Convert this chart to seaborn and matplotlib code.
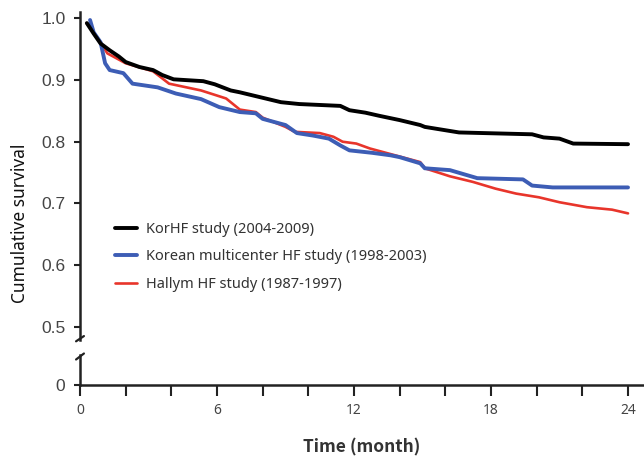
import matplotlib
matplotlib.use("Agg")
import matplotlib.pyplot as plt
import seaborn as sns
import pandas as pd

# ==========================================
# DATA
# ==========================================

korhf_month = [0.3, 0.6, 0.9, 1.3, 1.7, 2.0, 2.6, 3.2, 3.6, 4.1, 5.4, 5.9, 6.6, 7.0,
               7.9, 8.8, 9.6, 11.4, 11.8, 12.5, 13.1, 14.0, 14.9, 15.1, 16.6, 19.8,
               20.3, 21.0, 21.6, 24.0]
korhf_surv = [0.992, 0.975, 0.959, 0.948, 0.938, 0.929, 0.921, 0.916, 0.908, 0.901,
              0.898, 0.893, 0.883, 0.880, 0.872, 0.864, 0.861, 0.858, 0.851, 0.847,
              0.842, 0.835, 0.827, 0.824, 0.815, 0.812, 0.807, 0.805, 0.797, 0.796]

multi_month = [0.44, 0.6, 0.9, 1.1, 1.3, 1.9, 2.3, 3.4, 4.2, 5.3, 6.1, 7.0, 7.7, 8.0,
               9.0, 9.5, 10.2, 10.9, 11.4, 11.8, 12.8, 13.6, 14.0, 14.9, 15.1, 16.2,
               17.4, 19.4, 19.8, 20.7, 24.0]
multi_surv = [0.997, 0.977, 0.961, 0.927, 0.916, 0.911, 0.894, 0.888, 0.878, 0.869,
              0.856, 0.848, 0.846, 0.837, 0.827, 0.814, 0.810, 0.805, 0.794, 0.786,
              0.782, 0.778, 0.775, 0.765, 0.757, 0.754, 0.741, 0.739, 0.729, 0.726,
              0.726]

hallym_month = [0.29, 0.6, 1.2, 2.0, 3.2, 3.9, 5.3, 6.4, 7.0, 7.7, 8.0, 9.0, 9.4, 10.5,
                11.1, 11.5, 12.1, 12.7, 13.6, 14.9, 15.1, 16.2, 17.2, 18.2, 19.1, 20.1,
                21.0, 22.2, 23.3, 24.0]
hallym_surv = [0.992, 0.977, 0.943, 0.927, 0.914, 0.894, 0.883, 0.870, 0.852, 0.848,
               0.839, 0.824, 0.816, 0.814, 0.808, 0.800, 0.797, 0.789, 0.780, 0.767,
               0.757, 0.744, 0.735, 0.724, 0.716, 0.710, 0.702, 0.694, 0.690, 0.684]

labels = ["KorHF study (2004-2009)",
          "Korean multicenter HF study (1998-2003)",
          "Hallym HF study (1987-1997)"]
colors = ["#000000", "#3d5db5", "#e8352b"]

x_major = [0, 6, 12, 18, 24]
x_minor = [2, 4, 8, 10, 14, 16, 20, 22]
y_ticks = [0.5, 0.6, 0.7, 0.8, 0.9, 1.0]

# ==========================================
# FIGURE
# ==========================================

sns.set_style("white")
plt.rcParams["font.family"] = ["Noto Sans", "DejaVu Sans"]

fig = plt.figure(figsize=(6.44, 4.58), dpi=100)
L = 80 / 644
ax = fig.add_axes([L, 1 - 340 / 458, 1 - L, 328 / 458])
axb = fig.add_axes([L, 1 - 385 / 458, 1 - L, 30 / 458])

spine_c = "#222222"
tick_c = "#444444"

df_k = pd.DataFrame({"month": korhf_month, "surv": korhf_surv})
df_m = pd.DataFrame({"month": multi_month, "surv": multi_surv})
df_h = pd.DataFrame({"month": hallym_month, "surv": hallym_surv})

sns.lineplot(data=df_h, x="month", y="surv", ax=ax, color=colors[2], lw=1.9,
             sort=False, estimator=None, label=labels[2], zorder=2)
sns.lineplot(data=df_m, x="month", y="surv", ax=ax, color=colors[1], lw=2.8,
             sort=False, estimator=None, label=labels[1], zorder=3)
sns.lineplot(data=df_k, x="month", y="surv", ax=ax, color=colors[0], lw=2.8,
             sort=False, estimator=None, label=labels[0], zorder=4)

# top panel
ax.set_xlim(0, 24.7)
ax.set_ylim(0.479, 1.01)
ax.set_yticks(y_ticks)
ax.set_yticklabels([f"{v:.1f}" for v in y_ticks], family="Liberation Sans",
                   fontsize=12.5, color=tick_c)
ax.set_xticks([])
ax.set_xlabel("")
ax.set_ylabel("")
for s in ["top", "right", "bottom"]:
    ax.spines[s].set_visible(False)
ax.spines["left"].set_color(spine_c)
ax.spines["left"].set_linewidth(1.8)
ax.tick_params(axis="y", direction="out", length=4.5, width=1.5, color=spine_c,
               pad=6, left=True)

# bottom panel
axb.set_xlim(0, 24.7)
axb.set_ylim(0, 1)
axb.set_yticks([0])
axb.set_yticklabels(["0"], family="Liberation Sans", fontsize=12.5, color=tick_c)
axb.set_xticks(x_major)
axb.set_xticks(x_minor, minor=True)
axb.set_xticklabels([str(v) for v in x_major], fontsize=10, color=tick_c)
for s in ["top", "right"]:
    axb.spines[s].set_visible(False)
for s in ["left", "bottom"]:
    axb.spines[s].set_color(spine_c)
    axb.spines[s].set_linewidth(1.8)
axb.tick_params(axis="y", direction="out", length=4.5, width=1.5, color=spine_c,
                pad=6, left=True)
axb.tick_params(axis="x", which="both", direction="out", length=8, width=1.5,
                color=spine_c, pad=5, bottom=True)
axb.patch.set_alpha(0)

# axis break marks
d = 6 / 644
ax.plot([-d * 0.75, d * 0.75], [-0.004, 0.012], transform=ax.transAxes,
        color=spine_c, lw=1.6, clip_on=False)
axb.plot([-d * 0.75, d * 0.75], [0.85, 1.05], transform=axb.transAxes,
         color=spine_c, lw=1.6, clip_on=False)

# legend
h, l = ax.get_legend_handles_labels()
order = [l.index(t) for t in labels]
ax.legend([h[i] for i in order], [l[i] for i in order], loc="upper left",
          bbox_to_anchor=(0.062, 0.36), frameon=False, fontsize=10.5,
          handlelength=1.5, handletextpad=0.6, labelspacing=0.85,
          borderpad=0, borderaxespad=0, labelcolor="#333333")

fig.text(0.5 * (L + 1), 1 - 447 / 458, "Time (month)", ha="center", va="center",
         fontsize=12.5, fontweight="bold", color="#333333",
         family=["Noto Sans CJK KR", "DejaVu Sans"])
fig.text(20 / 644, 1 - 223 / 458, "Cumulative survival", ha="center", va="center",
         rotation=90, fontsize=12.5, color="#111111")

fig.savefig("out.png", dpi=100)
